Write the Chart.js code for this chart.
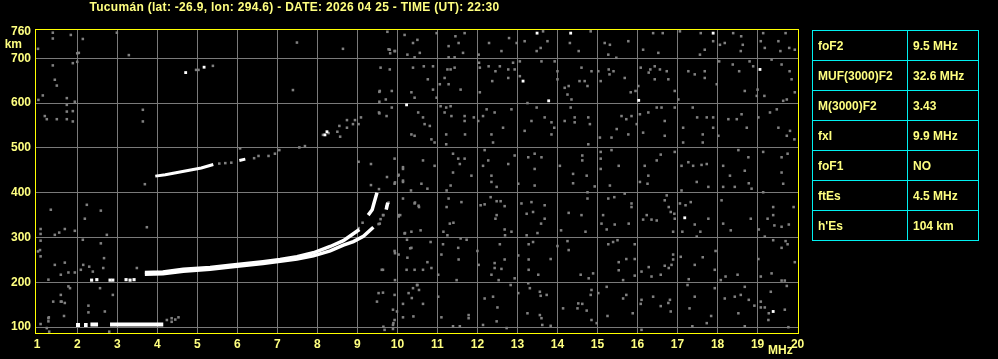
<!DOCTYPE html>
<html>
<head>
<meta charset="utf-8">
<script src="https://cdn.jsdelivr.net/npm/chart.js@4.4.1/dist/chart.umd.min.js"></script>
<style>
  html, body { margin:0; padding:0; background:#000; width:998px; height:359px; overflow:hidden; }
  #c { position:absolute; left:0; top:0; }
  #title { position:absolute; left:0; top:0; width:589px; text-align:center; color:#ffff80;
           font:bold 12px "Liberation Sans", Arial, sans-serif; letter-spacing:0.3px; line-height:14px; white-space:nowrap; }
  #params { position:absolute; left:812px; top:30px; border-collapse:collapse; table-layout:fixed;
            color:#ffff80; font:bold 12px "Liberation Sans", Arial, sans-serif; }
  #params td { border:1px solid #00f0f0; height:29px; padding:0 0 0 5px; white-space:nowrap; }
</style>
</head>
<body>
<canvas id="c" width="998" height="359"></canvas>
<div id="title">Tucumán (lat: -26.9, lon: 294.6) - DATE: 2026 04 25 - TIME (UT): 22:30</div>
<table id="params">
  <colgroup><col style="width:95px"><col style="width:71px"></colgroup>
  <tbody id="paramsBody"></tbody>
</table>
<script>
// ionogram - Tucumán
const YELLOW = '#ffff80', GRID = '#7a7a7a', NOISE = '#808080';

// axes
const xTicks = [1,2,3,4,5,6,7,8,9,10,11,12,13,14,15,16,17,18,19,20];
const yTicks = [100,200,300,400,500,600,700,760];

// scaled parameters (right table)
const paramNames  = ['foF2','MUF(3000)F2','M(3000)F2','fxI','foF1','ftEs',"h'Es"];
const paramValues = ['9.5 MHz','32.6 MHz','3.43','9.9 MHz','NO','4.5 MHz','104 km'];

// echoes [MHz, km]; null km = gap in trace
const esTrace = [[1.97,105],[2.07,105],[2.1,null],[2.17,105],[2.26,105],[2.3,null],[2.33,106],[2.52,106],[2.6,null],[2.82,106],[4.15,106]];
const f2ordTrace = [[3.69,222],[4.14,223],[4.65,229],[5.32,233],[5.82,238],[6.64,246],[7.07,251],[7.49,257],[7.9,266],[8.32,280],[8.65,293],[8.97,313],[9.05,318],[9.15,null],[9.27,350],[9.37,362],[9.42,378],[9.49,400]];
const f2extTrace = [[3.69,218],[4.14,219],[4.65,225],[5.32,229],[5.82,234],[6.64,242],[7.07,247],[7.49,252],[7.9,259],[8.32,270],[8.65,283],[8.9,291],[9.15,303],[9.4,323],[9.5,null],[9.72,362],[9.76,378]];
const secondHop = [[3.95,437],[4.2,440],[4.5,445],[4.8,450],[5.1,455],[5.4,463],[5.7,null],[6.05,472],[6.2,475]];
const lowFDots = [[2.36,205],[2.49,206],[2.82,205],[2.89,205],[3.22,206],[3.32,205],[3.42,206]];
const whiteDots = [[13.49,756],[14.33,756],[17.89,756],[13.14,649],[13.78,605],[16.03,606],[19.06,675],[10.23,596],[9.73,368],[17.18,344],[19.39,135],[4.71,668],[5.17,680],[8.19,529],[8.24,536]];
const noiseDots = [
  [1.39,757],[1.84,752],[2.14,743],[2.99,757],[2.0,711],[2.04,712],[3.29,707],[7.49,735],[8.64,721],[9.75,759],[9.78,720],[9.82,711],[9.94,716],
  [1.39,744],[1.02,721],[1.39,684],[1.89,689],[2.0,692],[1.44,652],[1.49,639],[1.14,617],[1.74,611],[1.03,607],[1.94,603],[1.74,596],[1.74,581],[1.89,582],[1.19,571],[1.24,564],[1.49,564],[1.74,564],[1.89,559],
  [4.97,674],[5.03,674],[5.39,683],[7.39,629],[3.64,585],[3.64,559],[9.55,625],[9.55,603],[9.55,577],[6.07,499],[7.55,501],[7.69,504],[8.74,562],[8.94,562],[9.09,568],[9.03,553],[8.89,553],[8.74,545],[8.55,549],[8.5,536],[8.57,525],[8.28,533],[8.14,529],
  [1.085,319],[1.085,308],[1.44,306],[1.55,311],[1.69,319],[1.94,315],[1.085,293],[1.02,269],[1.085,258],[1.44,239],[1.69,244],[1.59,217],[1.78,222],[1.94,222],[1.28,206],[1.78,191],[1.59,172],[1.4,157],[1.59,157],[1.69,154],[1.67,125],[1.28,120],[1.28,113],[1.085,107],[1.24,98],[1.3,90],
  [1.34,362],[2.24,373],[2.59,360],[2.19,342],[2.14,295],[2.59,287],[2.74,306],[3.74,323],[1.07,272],[2.15,239],[2.3,235],[2.39,224],[2.65,232],[2.67,254],[2.09,228],[3.49,232],[1.82,187],[2.57,187],[2.89,172],[2.28,148],[2.28,133],[2.69,135],[1.29,122],[4.53,122],[4.24,116],[4.36,120],[4.36,112],[4.45,117],[2.8,90],[1.61,157],
  [9.49,157],[9.53,176],[9.61,228],[9.94,265],[9.94,205],[9.99,135],[9.9,109],[9.65,101],[10.19,310],[10.24,295],[10.32,276],[10.49,194],[10.36,165],[10.4,124],[10.07,350],
  [9.03,469],[9.34,464],[10.03,440],[10.14,457],[9.74,435],[9.94,423],[10.14,427],[9.34,417],[9.54,408],[10.34,405],[9.78,378],[9.65,350],[9.58,341],[9.53,330],[9.13,333],[9.03,321],[10.03,347],[10.44,378],[10.53,371],
  [3.69,419],[7.05,495],[6.94,487],[6.78,482],[6.53,482],[6.42,477],[5.55,465],[5.7,466],[5.85,467],
  // 700-760 km, 10-20 MHz
  [10.18,752],[10.39,734],[10.5,741],[10.98,756],[11.45,749],[11.68,756],[11.53,734],[11.28,727],[9.81,719],[9.93,716],[10.25,708],[10.56,712],[10.43,702],[11.28,702],[11.43,702],[11.64,712],[12.03,708],[12.29,734],[12.6,716],[12.79,745],[12.98,734],[13.18,738],[13.64,760],[13.58,723],[13.75,738],[13.48,716],[14.31,734],[14.53,716],[14.83,760],[15.18,734],[15.31,730],[15.27,708],[15.47,701],[15.77,738],[16.14,719],[16.39,756],[16.63,756],[16.52,712],[17.06,760],[17.56,708],[17.68,719],[17.58,756],[17.89,738],[18.18,734],[18.06,730],[18.39,756],[18.59,749],[18.63,730],[18.58,716],[19.14,756],[19.08,738],[19.18,723],[19.52,738],[19.7,756],[19.57,716],[19.79,723],[19.93,719],
  // 600-700 km
  [9.58,679],[9.56,627],[9.81,675],[9.86,627],[9.71,608],[10.35,624],[10.43,612],[10.39,679],[10.66,682],[10.76,653],[10.89,682],[10.89,630],[10.98,612],[11.06,642],[11.18,656],[11.25,675],[11.33,675],[11.43,679],[11.28,642],[11.58,630],[12.04,690],[12.06,679],[12.06,624],[12.28,682],[12.37,649],[12.45,671],[12.56,682],[12.77,675],[12.89,690],[13.06,693],[12.93,675],[13.06,660],[12.77,656],[13.25,600],[13.6,693],[13.93,693],[14.0,671],[14.0,653],[14.18,634],[14.28,638],[14.25,619],[14.35,608],[14.6,679],[14.55,649],[14.68,649],[14.75,638],[14.85,671],[15.02,671],[15.08,649],[15.28,675],[15.4,671],[15.3,664],[15.68,656],[15.83,624],[15.95,627],[16.02,638],[16.08,679],[16.32,675],[16.28,668],[16.43,682],[16.56,675],[16.43,653],[16.77,653],[16.73,671],[16.93,627],[17.02,608],[17.27,671],[17.43,664],[17.68,671],[17.68,656],[17.98,642],[18.04,693],[18.38,686],[18.54,671],[18.8,693],[18.89,682],[19.0,630],[18.98,616],[18.68,627],[19.17,616],[19.35,697],[19.6,686],[19.8,671],[19.85,653],[19.93,624],[19.73,608],[19.64,605],
  // 500-600 km
  [9.54,579],[9.73,571],[9.86,590],[10.35,530],[10.43,527],[10.52,579],[10.64,568],[10.68,553],[10.81,549],[10.85,519],[10.93,512],[11.08,593],[11.18,579],[11.22,590],[11.33,593],[11.35,571],[11.22,530],[11.22,508],[11.68,571],[11.68,560],[11.69,530],[11.91,568],[12.02,560],[12.14,571],[12.23,586],[12.43,579],[12.35,530],[12.39,512],[12.64,545],[12.85,586],[13.18,538],[13.48,590],[13.35,560],[13.68,568],[13.85,557],[13.92,545],[13.85,530],[14.18,560],[14.43,568],[14.33,590],[14.43,557],[14.77,568],[14.81,553],[14.77,508],[15.06,523],[15.35,523],[15.48,542],[15.6,571],[15.72,564],[15.77,530],[15.85,571],[15.98,553],[16.06,575],[16.14,534],[16.27,579],[16.48,590],[16.6,590],[16.68,560],[16.68,527],[16.93,590],[17.14,545],[17.14,512],[17.38,590],[17.49,568],[17.63,530],[17.63,512],[17.73,568],[17.89,568],[17.89,545],[18.02,527],[18.27,564],[18.48,564],[18.6,575],[18.73,545],[19.02,568],[19.31,579],[19.48,586],[19.52,545],[19.73,527],[19.81,538],[19.92,519],
  // 400-500 km
  [9.93,476],[10.02,438],[10.14,453],[10.64,472],[10.93,460],[11.39,487],[11.52,476],[11.68,476],[11.56,464],[11.39,445],[11.85,438],[12.18,495],[12.27,472],[12.14,460],[12.35,438],[12.77,464],[12.93,483],[13.27,479],[13.43,487],[13.43,453],[13.6,479],[14.06,460],[14.39,442],[14.62,483],[14.62,472],[14.73,438],[15.08,491],[15.08,476],[15.08,453],[15.35,495],[15.53,460],[16.18,460],[16.27,438],[16.58,485],[16.48,472],[16.93,491],[17.1,460],[17.27,468],[17.39,460],[17.6,462],[17.73,464],[18.14,460],[18.31,438],[18.52,495],[18.77,479],[18.68,449],[19.14,491],[19.6,479],[19.75,487],[19.6,445],
  [9.93,420],[10.14,424],[10.6,420],[10.75,409],[11.23,405],[11.33,416],[12.35,424],[12.48,413],[13.02,420],[13.43,416],[14.39,421],[14.75,401],[14.93,414],[15.31,416],[15.68,398],[16.06,424],[16.25,420],[17.1,405],[17.48,424],[17.77,413],[18.14,413],[18.43,413],[18.78,421],[18.85,409],[19.14,401],[19.64,420],
  // 300-400 km
  [9.64,350],[9.56,331],[10.03,350],[10.14,387],[10.43,376],[10.54,368],[10.18,309],[10.35,313],[10.58,316],[11.28,387],[11.23,368],[11.6,379],[11.31,331],[11.4,333],[11.15,313],[11.25,305],[12.08,372],[12.18,374],[12.33,390],[12.48,381],[12.58,381],[12.68,370],[12.48,350],[12.45,342],[12.68,318],[12.69,305],[12.85,313],[13.1,376],[13.35,379],[13.39,357],[13.23,353],[13.68,372],[13.68,342],[13.59,331],[13.5,310],[13.23,305],[14.09,316],[14.28,355],[14.6,350],[14.7,313],[14.75,387],[15.1,331],[15.14,350],[15.27,387],[15.42,390],[15.43,329],[15.23,318],[15.85,376],[15.85,368],[15.78,331],[16.14,340],[16.23,350],[16.35,340],[16.48,338],[16.68,383],[16.73,394],[16.78,368],[16.83,357],[16.92,353],[16.93,342],[16.89,313],[17.06,376],[17.33,379],[17.2,372],[17.12,313],[17.43,329],[17.48,302],[17.57,313],[17.77,342],[18.1,383],[18.14,331],[18.33,316],[18.83,342],[19.03,318],[19.18,302],[19.25,342],[19.39,368],[19.42,327],[19.39,350],[19.6,324],[19.78,329],[19.9,368],
  // 200-300 km
  [9.64,228],[9.93,270],[10.03,262],[10.25,255],[10.35,277],[10.23,228],[10.43,228],[10.64,228],[10.75,245],[10.85,232],[10.83,290],[11.1,262],[11.14,285],[11.52,277],[11.53,251],[11.58,298],[11.73,295],[11.48,205],[11.02,217],[12.0,270],[12.03,239],[12.43,243],[12.56,285],[12.68,251],[12.6,230],[12.43,232],[12.53,205],[12.35,217],[12.93,209],[13.02,260],[13.28,285],[13.39,290],[13.28,251],[13.28,228],[13.52,217],[13.83,252],[14.0,281],[14.25,292],[14.28,272],[14.58,217],[14.78,209],[14.89,220],[15.27,285],[15.39,290],[15.5,294],[15.53,245],[15.53,227],[15.72,252],[15.64,205],[15.93,285],[15.93,252],[15.93,215],[16.1,224],[16.28,234],[16.35,213],[16.58,217],[16.68,237],[16.78,232],[16.89,262],[16.89,251],[16.85,239],[17.08,257],[17.28,207],[17.43,239],[17.63,256],[17.93,228],[17.95,270],[18.08,205],[18.2,213],[18.5,217],[19.02,252],[19.08,213],[19.35,220],[19.39,294],[19.6,277],[19.7,292],[19.75,285],[19.93,245],[19.6,204],[19.68,204],
  // 88-200 km
  [9.64,177],[9.93,172],[9.89,139],[9.93,116],[9.89,105],[9.89,96],[9.68,94],[10.14,152],[10.14,122],[10.28,176],[10.39,187],[10.5,194],[10.54,183],[10.64,152],[11.02,168],[11.1,122],[11.39,102],[11.78,127],[11.78,120],[11.56,102],[12.18,164],[12.39,168],[12.5,144],[12.14,105],[12.48,113],[12.73,98],[12.83,194],[13.02,176],[13.27,198],[13.31,187],[13.56,179],[13.58,170],[13.73,172],[13.56,127],[13.6,120],[13.62,105],[13.25,131],[13.83,103],[14.14,142],[14.52,153],[14.5,142],[14.62,152],[14.73,137],[14.85,116],[14.85,183],[14.83,172],[15.02,176],[14.98,109],[15.23,190],[15.25,125],[15.64,164],[15.72,172],[15.88,131],[16.1,161],[16.08,152],[16.1,94],[16.39,168],[16.58,147],[16.81,161],[16.83,135],[16.77,154],[17.3,142],[17.43,168],[17.25,194],[17.37,102],[17.73,109],[17.84,125],[17.93,187],[18.18,164],[18.43,168],[18.58,172],[18.68,190],[18.78,161],[18.52,131],[18.68,102],[18.92,148],[19.08,157],[19.08,144],[19.18,144],[19.28,131],[19.27,116],[19.33,179],[19.68,139],[19.77,100],[19.73,192]
];

const toXY = arr => arr.map(p => ({x: p[0], y: p[1]}));

// table
const tb = document.getElementById('paramsBody');
paramNames.forEach((n, i) => {
  const tr = document.createElement('tr');
  const a = document.createElement('td'); a.textContent = n;
  const b = document.createElement('td'); b.textContent = paramValues[i];
  tr.appendChild(a); tr.appendChild(b); tb.appendChild(tr);
});

const traceStyle = w => ({ showLine:true, borderColor:'#ffffff', borderWidth:w, pointRadius:0, spanGaps:false, tension:0 });

const frame = {
  id: 'frame',
  afterDraw(chart){
    const {ctx, chartArea:a} = chart;
    ctx.save();
    ctx.strokeStyle = '#ffff00'; ctx.lineWidth = 1;
    ctx.strokeRect(a.left - 0.5, a.top - 0.5, a.right - a.left + 1, a.bottom - a.top + 1);
    ctx.fillStyle = YELLOW;
    ctx.font = 'bold 12px "Liberation Sans", Arial, sans-serif';
    ctx.textBaseline = 'middle';
    ctx.textAlign = 'right';
    ctx.fillText('km', a.left - 14, a.top + 15);
    ctx.textAlign = 'left';
    ctx.fillText('MHz', a.right - 30, a.bottom + 18);
    ctx.restore();
  }
};

const tickFont = { family:'"Liberation Sans", Arial, sans-serif', size:12, weight:'bold' };

new Chart(document.getElementById('c'), {
  type: 'scatter',
  data: {
    datasets: [
      { data: toXY(esTrace), ...traceStyle(4) },
      { data: toXY(f2ordTrace), ...traceStyle(3.5) },
      { data: toXY(f2extTrace), ...traceStyle(3.5) },
      { data: toXY(secondHop), ...traceStyle(3) },
      { data: toXY(lowFDots), pointStyle:'rect', pointRadius:2.2, pointBorderWidth:0, backgroundColor:'#ffffff' },
      { data: toXY(whiteDots), pointStyle:'rect', pointRadius:2, pointBorderWidth:0, backgroundColor:'#ffffff' },
      { data: toXY(noiseDots), pointStyle:'rect', pointRadius:1.8, pointBorderWidth:0, backgroundColor:NOISE }
    ]
  },
  options: {
    responsive: false,
    animation: false,
    devicePixelRatio: 1,
    events: [],
    layout: { padding: { top:30, right:200, left:0, bottom:0 } },
    plugins: { legend:{display:false}, tooltip:{enabled:false} },
    scales: {
      x: {
        type:'linear', min:0.97, max:20.01,
        afterBuildTicks: s => { s.ticks = xTicks.map(v => ({value:v})); },
        afterFit: s => { s.height = 26; },
        border: { display:false },
        grid: { drawTicks:false, lineWidth:1,
                color: c => (c.tick && (c.tick.value === 1 || c.tick.value === 20)) ? 'rgba(0,0,0,0)' : GRID },
        ticks: { color:YELLOW, font:tickFont, padding:4, maxRotation:0, autoSkip:false }
      },
      y: {
        type:'linear', min:87, max:763,
        afterBuildTicks: s => { s.ticks = yTicks.map(v => ({value:v})); },
        afterFit: s => { s.width = 36; },
        border: { display:false },
        grid: { drawTicks:false, lineWidth:1,
                color: c => (c.tick && c.tick.value === 760) ? 'rgba(0,0,0,0)' : GRID },
        ticks: { color:YELLOW, font:tickFont, padding:5, autoSkip:false }
      }
    }
  },
  plugins: [frame]
});
</script>
</body>
</html>
